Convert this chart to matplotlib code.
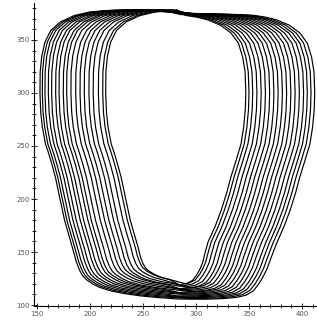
import numpy as np
import matplotlib
matplotlib.use("Agg")
import matplotlib.pyplot as plt
from matplotlib.ticker import MultipleLocator

# Outermost loop, left half: from top centre, round the left side, to bottom centre
outer_left_x = [282, 260, 240, 220, 200, 185, 172, 163, 157.5, 154.5, 153, 152.8,
                153.5, 155, 158, 161, 164, 167.5, 170, 173, 176, 180, 184, 187,
                190, 193, 197, 203, 209, 220, 233, 247, 262, 282]
outer_left_y = [375.5, 377.5, 378.2, 378, 376.5, 373, 367, 359, 348, 335, 320, 300,
                282, 268, 252, 243, 233, 220, 208, 194, 180, 166, 152, 141,
                133, 127.5, 123.5, 119.5, 116.5, 113, 110.5, 108.5, 107, 105.5]
# Outermost loop, right half: from top centre, round the right side, to bottom centre
outer_right_x = [282, 300, 320, 340, 355, 366, 376, 388, 398, 405, 409, 411.3, 412,
                 411.5, 410, 407.5, 403, 398, 394, 389, 383, 376, 371, 367, 363,
                 359, 354, 347, 338, 325, 310, 295, 282]
outer_right_y = [375.5, 375, 374.5, 374, 373.2, 371.5, 369, 364, 356.6, 347, 334, 320, 300,
                 284, 268, 252, 237, 221, 206, 190, 174, 158, 145, 134, 126,
                 119.5, 113, 109, 107, 105.8, 105.3, 105.3, 105.5]

# Left and right side position of each loop at y = 300 (outermost first)
left_at_300 = [152.8, 155, 157.5, 160.7, 163.8, 167.6, 170.8, 174.8, 178, 182,
               186.5, 190.6, 194.6, 199, 203, 207.9, 212, 214.8]
right_at_300 = [412, 408.5, 405, 401.5, 397.5, 393.5, 389.5, 385.5, 381.5, 377.5,
                373.5, 369.5, 365.5, 361.5, 357.5, 353.5, 350, 347]
# Lowest point of each loop's bottom edge (outermost first)
bottom_at_centre = [105.5, 106.2, 107, 107.8, 108.6, 109.4, 110.2, 111, 111.8,
                    112.6, 113.5, 114.4, 115.3, 116.2, 117.1, 118, 119, 120]
centre_x = 282

xticks_major = [150, 200, 250, 300, 350, 400]
yticks_major = [100, 150, 200, 250, 300, 350]

fig = plt.figure(figsize=(3.17, 3.22), dpi=100)
ax = fig.add_axes([0.10726, 0.04969, 0.89117, 0.94099])
ax.set_xlim(147.17, 413.68)
ax.set_ylim(99.06, 384.9)

olx = np.array(outer_left_x, float)
oly = np.array(outer_left_y, float)
orx = np.array(outer_right_x, float)
ory = np.array(outer_right_y, float)

pivot = 165.0
for lx, rx, yb in zip(left_at_300, right_at_300, bottom_at_centre):
    sl = lx - left_at_300[0]
    sr = right_at_300[0] - rx
    # sides sit a little further out towards the bottom corners
    gl = np.clip(0.93 + 0.07 * (oly - 105) / (160 - 105), 0.93, 1.0)
    gr = np.clip(0.86 + 0.14 * (ory - 105) / (160 - 105), 0.86, 1.0)
    Lx = olx + sl * gl
    Rx = orx - sr * gr
    keepL = Lx <= centre_x
    keepR = Rx >= centre_x
    xs = np.concatenate([Lx[keepL], Rx[keepR][::-1]])
    ys = np.concatenate([oly[keepL], ory[keepR][::-1]])
    natural = ys.min()
    f = (pivot - yb) / (pivot - natural)
    low = ys < pivot
    ys = ys.copy()
    ys[low] = pivot - (pivot - ys[low]) * f
    xs = np.append(xs, xs[0])
    ys = np.append(ys, ys[0])
    ax.plot(xs, ys, color="black", lw=0.85, solid_joinstyle="round", clip_on=False)

for s in ["top", "right"]:
    ax.spines[s].set_visible(False)
for s in ["left", "bottom"]:
    ax.spines[s].set_linewidth(0.8)
    ax.spines[s].set_color("black")

ax.set_xticks(xticks_major)
ax.set_yticks(yticks_major)
ax.xaxis.set_minor_locator(MultipleLocator(10))
ax.yaxis.set_minor_locator(MultipleLocator(10))
ax.tick_params(which="major", direction="inout", length=4.3, width=0.6,
               labelsize=5, labelcolor="#555555", color="black")
ax.tick_params(which="minor", direction="inout", length=2.6, width=0.6, color="black")
ax.tick_params(axis="x", pad=1.2)
ax.tick_params(axis="y", pad=0.8)

fig.savefig("out.png", dpi=100)
